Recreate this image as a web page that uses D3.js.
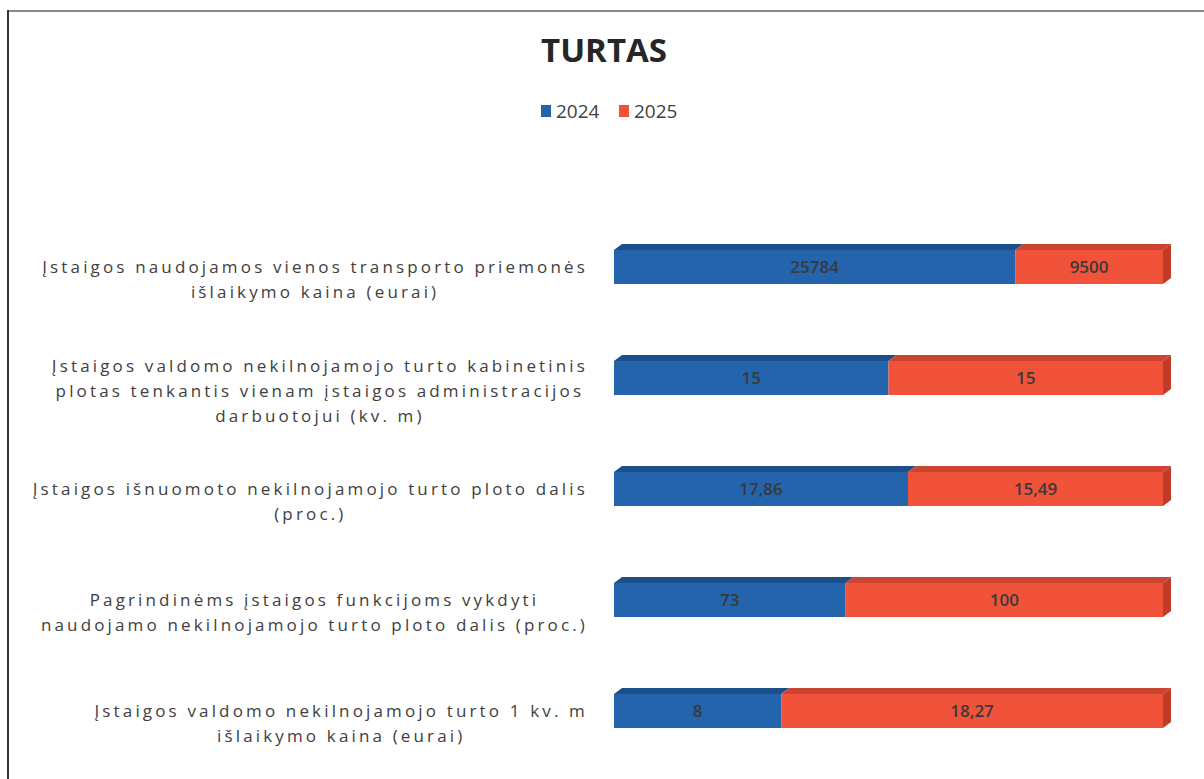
<!DOCTYPE html>
<html>
<head>
<meta charset="utf-8">
<script src="https://cdn.jsdelivr.net/npm/d3@7"></script>
<style>
  body { margin: 0; background: #fff; }
  svg { display: block; }
</style>
</head>
<body>
<div id="chart"></div>
<script>
// chart data
var categories = [
  ["Įstaigos naudojamos vienos transporto priemonės", "išlaikymo kaina (eurai)"],
  ["Įstaigos valdomo nekilnojamojo turto kabinetinis", "plotas tenkantis vienam įstaigos administracijos", "darbuotojui (kv. m)"],
  ["Įstaigos išnuomoto nekilnojamojo turto ploto dalis", "(proc.)"],
  ["Pagrindinėms įstaigos funkcijoms vykdyti", "naudojamo nekilnojamojo turto ploto dalis (proc.)"],
  ["Įstaigos valdomo nekilnojamojo turto 1 kv. m", "išlaikymo kaina (eurai)"]
];
var seriesNames = ["2024", "2025"];
var values2024 = [25784, 15, 17.86, 73, 8];
var values2025 = [9500, 15, 15.49, 100, 18.27];

var colors = {
  "2024": { front: "#2364ad", top: "#1b4f8c", side: "#174478" },
  "2025": { front: "#f0533a", top: "#cc442f", side: "#c23a28" }
};

var width = 1204, height = 779;
var svg = d3.select("#chart").append("svg")
    .attr("width", width)
    .attr("height", height);

// frame
svg.append("line").attr("x1", 8).attr("x2", width).attr("y1", 11).attr("y2", 11)
    .attr("stroke", "#8a8a8a").attr("stroke-width", 2);
svg.append("line").attr("x1", 8).attr("x2", 8).attr("y1", 10).attr("y2", height)
    .attr("stroke", "#333").attr("stroke-width", 2);

// title
svg.append("text")
    .attr("x", 604).attr("y", 62)
    .attr("text-anchor", "middle")
    .attr("font-family", "Open Sans, sans-serif")
    .attr("font-weight", "bold")
    .attr("font-size", 33)
    .attr("fill", "#262626")
    .text("TURTAS");

// legend
var legendX = [541, 619];
var legend = svg.append("g");
seriesNames.forEach(function (s, i) {
  legend.append("rect")
      .attr("x", legendX[i]).attr("y", 105)
      .attr("width", 10).attr("height", 12)
      .attr("fill", colors[s].front);
  legend.append("text")
      .attr("x", legendX[i] + 15).attr("y", 118)
      .attr("font-family", "Open Sans, sans-serif")
      .attr("font-size", 19)
      .attr("fill", "#404040")
      .text(s);
});

// scales
var data = categories.map(function (c, i) {
  var tot = values2024[i] + values2025[i];
  return { lines: c, a: values2024[i], b: values2025[i], pa: values2024[i] / tot };
});

var x = d3.scaleLinear().domain([0, 1]).range([614, 1163]);
var y = d3.scalePoint().domain(d3.range(categories.length)).range([267, 711]);

var barH = 34, dx = 8, dy = 6;
var fmt = d3.formatLocale({ decimal: ",", thousands: " ", grouping: [3], currency: ["", ""] }).format("~f");

var bars = svg.append("g");
data.forEach(function (d, i) {
  var cy = y(i), y0 = cy - barH / 2;
  var segs = [
    { s: "2024", x0: x(0), x1: x(d.pa), v: d.a },
    { s: "2025", x0: x(d.pa), x1: x(1), v: d.b }
  ];
  var g = bars.append("g");
  segs.forEach(function (sg) {
    // top face
    g.append("polygon")
        .attr("points", [[sg.x0, y0], [sg.x1, y0], [sg.x1 + dx, y0 - dy], [sg.x0 + dx, y0 - dy]].join(" "))
        .attr("fill", colors[sg.s].top);
  });
  // right side face
  g.append("polygon")
      .attr("points", [[x(1), y0], [x(1) + dx, y0 - dy], [x(1) + dx, y0 + barH - dy], [x(1), y0 + barH]].join(" "))
      .attr("fill", colors["2025"].side);
  segs.forEach(function (sg) {
    g.append("rect")
        .attr("x", sg.x0).attr("y", y0)
        .attr("width", sg.x1 - sg.x0).attr("height", barH)
        .attr("fill", colors[sg.s].front);
    g.append("text")
        .attr("x", (sg.x0 + sg.x1) / 2).attr("y", cy)
        .attr("dy", "0.35em")
        .attr("text-anchor", "middle")
        .attr("font-family", "Open Sans, sans-serif")
        .attr("font-weight", 600)
        .attr("font-size", 17)
        .attr("fill", "#3a3a3a")
        .text(fmt(sg.v));
  });
});

// category labels
var labelRight = 588, lineH = 25;
var labels = svg.append("g")
    .attr("font-family", "Open Sans, sans-serif")
    .attr("font-size", 17)
    .attr("letter-spacing", "3.15px")
    .attr("fill", "#404040");

data.forEach(function (d, i) {
  var n = d.lines.length;
  var mid = y(i) + 13;
  var g = labels.append("g");
  var texts = d.lines.map(function (ln, k) {
    return g.append("text")
        .attr("y", mid + (k - (n - 1) / 2) * lineH)
        .attr("dy", "0.35em")
        .attr("text-anchor", "middle")
        .text(ln);
  });
  var maxW = d3.max(texts, function (t) { return t.node().getComputedTextLength(); });
  texts.forEach(function (t) { t.attr("x", labelRight - maxW / 2); });
});
</script>
</body>
</html>
